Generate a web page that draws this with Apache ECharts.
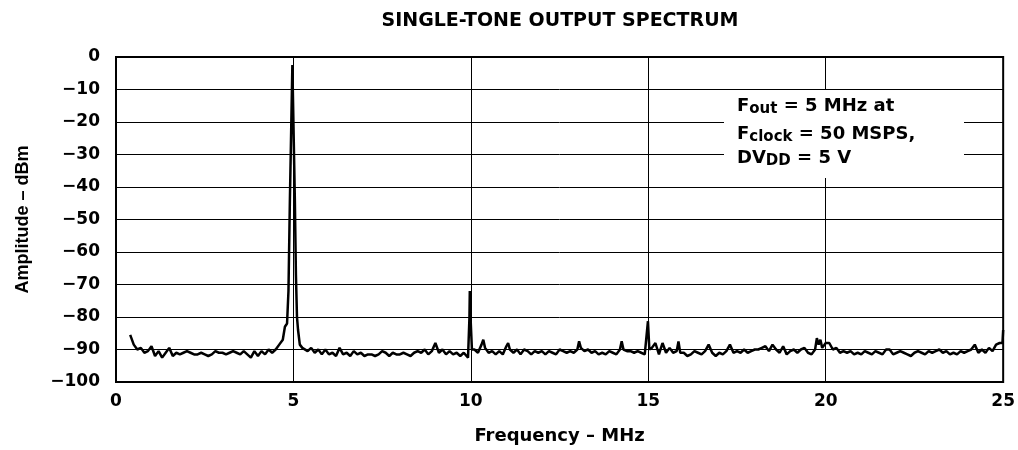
<!DOCTYPE html>
<html>
<head>
<meta charset="utf-8">
<title>Single-tone output spectrum</title>
<script src="https://cdn.jsdelivr.net/npm/echarts@6/dist/echarts.min.js"></script>
<style>
  html, body { margin: 0; padding: 0; background: #fff; }
  #chart { width: 1018px; height: 450px; }
</style>
</head>
<body>
<div id="chart"></div>
<script>
// spectrum trace (MHz / dBm)
var freqMHz = [
  0.4, 0.5, 0.6, 0.7, 0.8, 0.9, 1.0, 1.1, 1.2, 1.3,
  1.4, 1.5, 1.6, 1.7, 1.8, 1.9, 2.0, 2.1, 2.2, 2.3,
  2.4, 2.5, 2.6, 2.7, 2.8, 2.9, 3.0, 3.1, 3.2, 3.3,
  3.4, 3.5, 3.6, 3.7, 3.8, 3.9, 4.0, 4.1, 4.2, 4.3,
  4.4, 4.5, 4.6, 4.7, 4.76, 4.82, 4.86, 4.9, 4.97, 5.04,
  5.07, 5.1, 5.13, 5.18, 5.25, 5.3, 5.4, 5.5, 5.6,
  5.7, 5.8, 5.9, 6.0, 6.1, 6.2, 6.3, 6.4, 6.5, 6.6,
  6.7, 6.8, 6.9, 7.0, 7.1, 7.2, 7.3, 7.4, 7.5, 7.6,
  7.7, 7.8, 7.9, 8.0, 8.1, 8.2, 8.3, 8.4, 8.5, 8.6,
  8.7, 8.8, 8.9, 9.0, 9.1, 9.2, 9.3, 9.4, 9.5, 9.6,
  9.7, 9.8, 9.85, 9.92, 9.96, 9.97, 9.99, 10.03, 10.1, 10.2,
  10.3, 10.35, 10.4, 10.5, 10.6, 10.7, 10.8, 10.9, 11.0, 11.05,
  11.1, 11.2, 11.3, 11.4, 11.5, 11.6, 11.7, 11.8, 11.9, 12.0,
  12.1, 12.2, 12.3, 12.4, 12.5, 12.6, 12.7, 12.8, 12.9, 13.0,
  13.05, 13.1, 13.2, 13.3, 13.4, 13.5, 13.6, 13.7, 13.8, 13.9,
  14.0, 14.1, 14.2, 14.25, 14.3, 14.4, 14.5, 14.6, 14.7, 14.8,
  14.9, 14.95, 14.99, 15.03, 15.1, 15.2, 15.3, 15.4, 15.5, 15.6,
  15.7, 15.8, 15.85, 15.9, 16.0, 16.1, 16.2, 16.3, 16.4, 16.5,
  16.6, 16.7, 16.8, 16.9, 17.0, 17.1, 17.2, 17.3, 17.4, 17.5,
  17.6, 17.7, 17.8, 17.9, 18.0, 18.1, 18.2, 18.3, 18.4, 18.5,
  18.6, 18.7, 18.8, 18.9, 19.0, 19.1, 19.2, 19.3, 19.4, 19.5,
  19.6, 19.7, 19.75, 19.8, 19.85, 19.9, 20.0, 20.1, 20.2, 20.3,
  20.4, 20.5, 20.6, 20.7, 20.8, 20.9, 21.0, 21.1, 21.2, 21.3,
  21.4, 21.5, 21.6, 21.7, 21.8, 21.9, 22.0, 22.1, 22.2, 22.3,
  22.4, 22.5, 22.6, 22.7, 22.8, 22.9, 23.0, 23.1, 23.2, 23.3,
  23.4, 23.5, 23.6, 23.7, 23.8, 23.9, 24.0, 24.1, 24.2, 24.3,
  24.4, 24.5, 24.6, 24.7, 24.8, 24.9, 24.98, 25.0
];
var amplitudeDbm = [
  -85.5, -88.5, -90, -89.5, -91, -90.5, -89, -92, -90.5, -92.5,
  -91, -89.5, -92, -91, -91.5, -91, -90.5, -91, -91.5, -91.5,
  -91, -91.5, -92, -91.5, -90.5, -91, -91, -91.5, -91, -90.5,
  -91, -91.5, -90.5, -91.5, -92.5, -90.5, -92, -90.5, -91.5, -90,
  -91, -90, -88.5, -87, -83, -82, -72, -44, -2.5, -44,
  -67, -80, -84, -88.5, -89.5, -90, -90.5, -89.5, -91,
  -90, -91.5, -90, -91.5, -91, -92, -89.5, -91.5, -91, -92,
  -90.5, -91.5, -91, -92, -91.5, -91.5, -92, -91.5, -90.5, -91,
  -92, -91, -91.5, -91.5, -91, -91.5, -92, -91, -90.5, -91,
  -90, -91.5, -90.5, -88, -91, -90, -91.5, -90.5, -91.5, -91,
  -92, -91, -90.5, -92.5, -80, -72, -80, -90, -90, -91,
  -88.5, -87, -89.5, -91, -90.5, -91.5, -90.5, -91.5, -89, -88,
  -90, -91, -90, -91.5, -90, -90.5, -91.5, -90.5, -91, -90.5,
  -91.5, -90.5, -91, -91.5, -90, -90.5, -91, -90.5, -91, -90,
  -87.5, -89.5, -90.5, -90, -91, -90.5, -91.5, -91, -91.5, -90.5,
  -91, -91.5, -90, -87.5, -90, -90.5, -90.5, -91, -90.5, -91,
  -91.5, -92, -81.3, -90, -89.5, -88, -91.5, -88, -91, -89.5,
  -91, -90.5, -87.5, -91, -91, -92, -91.5, -90.5, -91, -91.5,
  -90.5, -88.5, -91, -92, -91, -91.5, -90.5, -88.5, -91, -90.5,
  -91, -90, -91, -90.5, -90, -90, -89.5, -89, -90.5, -88.5,
  -90, -91, -89, -91.5, -90.5, -90, -91, -90, -89.5, -91,
  -91.5, -90, -86.5, -88.5, -87, -89.5, -88, -88, -90, -89.5,
  -91, -90.5, -91, -90.5, -91.5, -91, -91.5, -90.5, -91, -91.5,
  -90.5, -91, -91.5, -90, -90, -91.5, -91, -90.5, -91, -91.5,
  -92, -91, -90.5, -91, -91.5, -90.5, -91, -90.5, -90, -91,
  -90.5, -91.5, -91, -91.5, -90.5, -91, -90.5, -90, -88.5, -91,
  -90, -91, -89.5, -90.5, -88.5, -88, -88, -84
];

var chart = echarts.init(document.getElementById('chart'));
var hFont = 'DejaVu Sans';
var vFont = 'Liberation Sans';

var trace = freqMHz.map(function (f, i) {
  return [f, amplitudeDbm[i]];
});

var noteRich = {
  m: { fontFamily: hFont, fontWeight: 'bold', fontSize: 18, lineHeight: 22, fill: '#000' },
  s: { fontFamily: hFont, fontWeight: 'bold', fontSize: 15, lineHeight: 10, verticalAlign: 'bottom', fill: '#000' }
};

var option = {
  animation: false,
  backgroundColor: '#ffffff',
  grid: {
    left: 116, right: 14, top: 57, bottom: 67,
    show: true, borderColor: '#000', borderWidth: 2
  },
  xAxis: {
    type: 'value', min: 0, max: 25, interval: 5,
    name: 'Frequency – MHz', nameLocation: 'middle', nameGap: 45,
    nameTextStyle: { fontFamily: hFont, fontWeight: 'bold', fontSize: 18, color: '#000' },
    axisLine: { show: false },
    axisTick: { show: false },
    axisLabel: { margin: 11, fontFamily: hFont, fontWeight: 'bold', fontSize: 17, color: '#000' },
    splitLine: { show: true, lineStyle: { color: '#000', width: 1 } }
  },
  yAxis: {
    type: 'value', min: -100, max: 0, interval: 10,
    name: 'Amplitude – dBm', nameLocation: 'middle', nameGap: 84, nameRotate: 90,
    nameTextStyle: { fontFamily: vFont, fontWeight: 'bold', fontSize: 18, color: '#000' },
    axisLine: { show: false },
    axisTick: { show: false },
    axisLabel: {
      margin: 16, fontFamily: hFont, fontWeight: 'bold', fontSize: 17, color: '#000',
      formatter: function (v) { return String(v).replace('-', '\u2212'); }
    },
    splitLine: { show: true, lineStyle: { color: '#000', width: 1 } }
  },
  graphic: [
    {
      type: 'text', x: 560, y: 21, z: 100,
      style: {
        text: 'SINGLE-TONE OUTPUT SPECTRUM', align: 'center', verticalAlign: 'middle',
        font: 'bold 19px "DejaVu Sans"', fill: '#000'
      }
    },
    { type: 'rect', z: 100, shape: { x: 724, y: 90, width: 240, height: 88 }, style: { fill: '#fff' } },
    {
      type: 'text', x: 737, y: 106, z: 101,
      style: { text: '{m|F}{s|out}{m| = 5 MHz at}', verticalAlign: 'middle', rich: noteRich }
    },
    {
      type: 'text', x: 737, y: 134, z: 101,
      style: { text: '{m|F}{s|clock}{m| = 50 MSPS,}', verticalAlign: 'middle', rich: noteRich }
    },
    {
      type: 'text', x: 737, y: 158, z: 101,
      style: { text: '{m|DV}{s|DD}{m| = 5 V}', verticalAlign: 'middle', rich: noteRich }
    }
  ],
  series: [{
    type: 'line',
    data: trace,
    symbol: 'none',
    z: 5,
    lineStyle: { color: '#000', width: 2.5 }
  }]
};
chart.setOption(option);
</script>
</body>
</html>
